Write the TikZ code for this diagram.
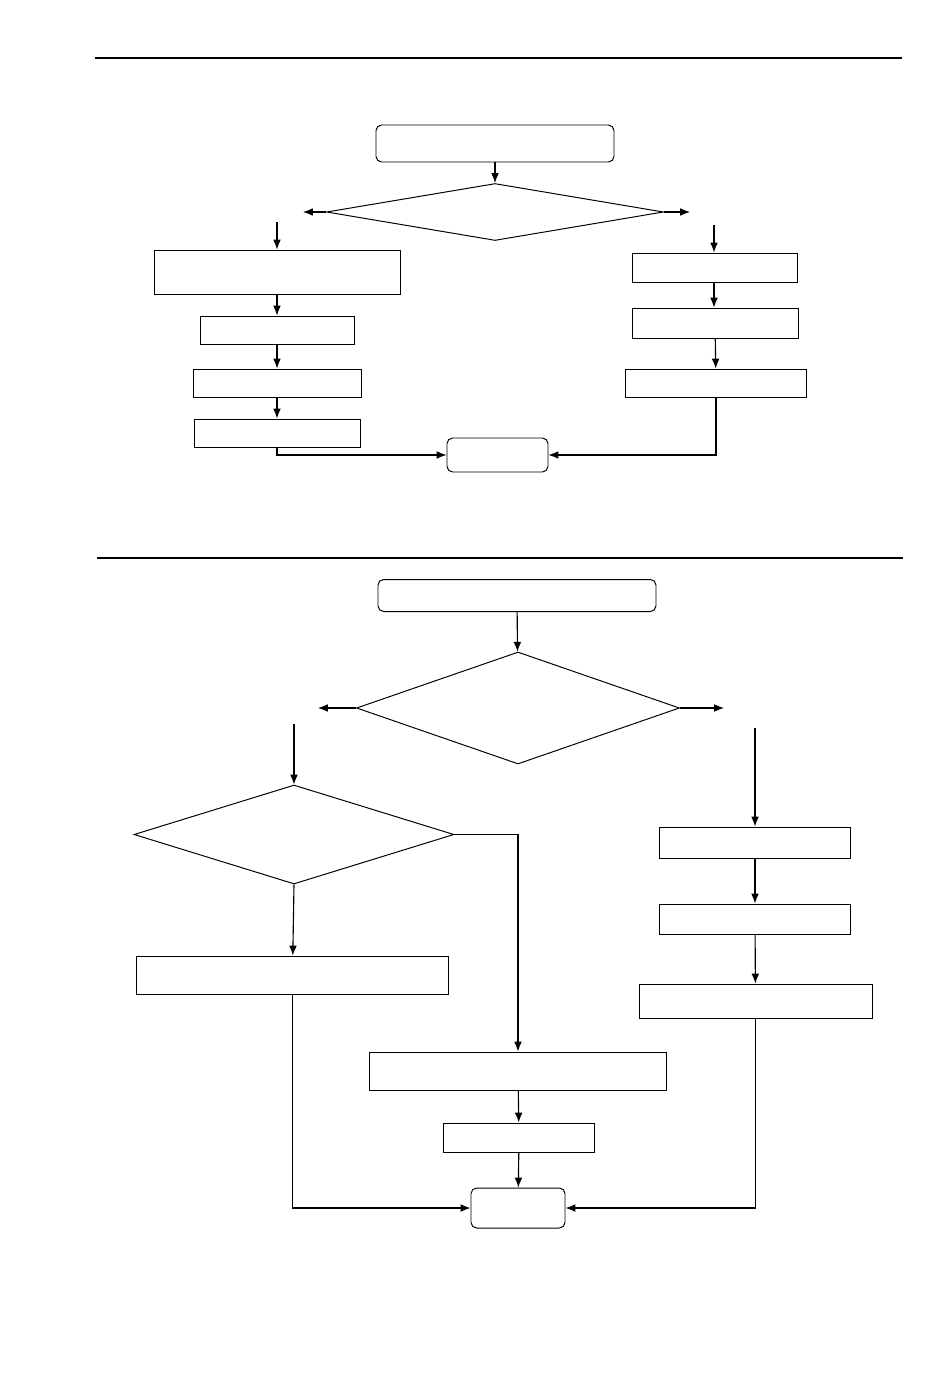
\documentclass[tikz,border=0pt]{standalone}
\usepackage{tikz}
\usetikzlibrary{shapes.geometric,arrows.meta}
\newcommand{\pxu}{0.025cm}
\tikzset{
    %Define standard arrow tip
    >={Latex[length=7pt,width=5.5pt]},
    %Define style for boxes
    procbox/.style 2 args={
           rectangle,
           draw=black, line width=0.7pt,
           minimum width=#1*\pxu,
           minimum height=#2*\pxu,
           inner sep=0pt},
    termbox/.style 2 args={
           procbox={#1}{#2},
           rounded corners=4pt},
    decision/.style 2 args={
           diamond,
           draw=black, line width=0.7pt,
           minimum width=#1*\pxu,
           minimum height=#2*\pxu,
           inner sep=0pt},
    % Define arrow style
    pil/.style={
           ->,
           line width=0.8pt},
    rule/.style={line width=2pt}
}
\begin{document}
\begin{tikzpicture}[x=0.025cm,y=-0.025cm]
\useasboundingbox (0,0) rectangle (950,1388);
 %upper chart
\draw[rule] (95,58) -- (902,58);
\node[termbox={238}{37}] (s1) at (495,143.5) {};
\node[decision={337}{57}] (d1) at (495,212) {};
\coordinate (d1l) at (303,212);
\coordinate (d1r) at (690,212);
\coordinate (f1l) at (277,222);
\coordinate (f1r) at (714,225);
\node[procbox={246}{44}] (l1) at (277,272) {};
\node[procbox={154}{28}] (l2) at (277,330) {};
\node[procbox={168}{28}] (l3) at (277,383) {};
\node[procbox={166}{28}] (l4) at (277,433) {};
\node[procbox={165}{29}] (r1) at (715,267.5) {};
\node[procbox={166}{30}] (r2) at (715,323) {};
\node[procbox={181}{28}] (r3) at (716,383) {};
\node[termbox={101}{34}] (e1) at (497.5,455) {};
\draw[pil] (s1) -- (d1);
\draw[pil] (d1.west) -- (d1l);
\draw[pil] (d1.east) -- (d1r);
\draw[pil] (f1l) -- (l1);
\draw[pil] (l1) -- (l2);
\draw[pil] (l2) -- (l3);
\draw[pil] (l3) -- (l4);
\draw[pil] (l4.south) |- (e1.west);
\draw[pil] (f1r) -- (f1r |- r1.north);
\draw[pil] (r1.south -| f1r) -- (r2.north -| f1r);
\draw[pil] (r2) -- (r3);
\draw[pil] (r3.south) |- (e1.east);
 %lower chart
\draw[rule] (97,558) -- (903,558);
\node[termbox={278}{32}] (s2) at (517,595.5) {};
\node[decision={323}{112}] (d2) at (518,708) {};
\coordinate (d2l) at (318,708);
\coordinate (d2r) at (724,708);
\coordinate (f2l) at (294,724);
\coordinate (f2r) at (755,728);
\node[decision={320}{99}] (d3) at (294,834.5) {};
\node[procbox={312}{38}] (b1) at (292.5,975) {};
\node[procbox={297}{38}] (m1) at (518,1071) {};
\node[procbox={151}{29}] (m2) at (519,1137.5) {};
\node[procbox={191}{31}] (q1) at (755,842.5) {};
\node[procbox={191}{30}] (q2) at (755,919) {};
\node[procbox={233}{34}] (q3) at (755.5,1001) {};
\node[termbox={94}{40}] (e2) at (518,1208) {};
\draw[pil] (s2) -- (d2);
\draw[pil] (d2.west) -- (d2l);
\draw[pil] (d2.east) -- (d2r);
\draw[pil] (f2l) -- (d3.north);
\draw[pil] (d3.south) -- (b1);
\draw[pil] (d3.east) -| (m1.north);
\draw[pil] (m1) -- (m2);
\draw[pil] (m2) -- (e2);
\draw[pil] (b1.south) |- (e2.west);
\draw[pil] (f2r) -- (q1);
\draw[pil] (q1) -- (q2);
\draw[pil] (q2) -- (q3);
\draw[pil] (q3.south) |- (e2.east);
\end{tikzpicture}
\end{document}
